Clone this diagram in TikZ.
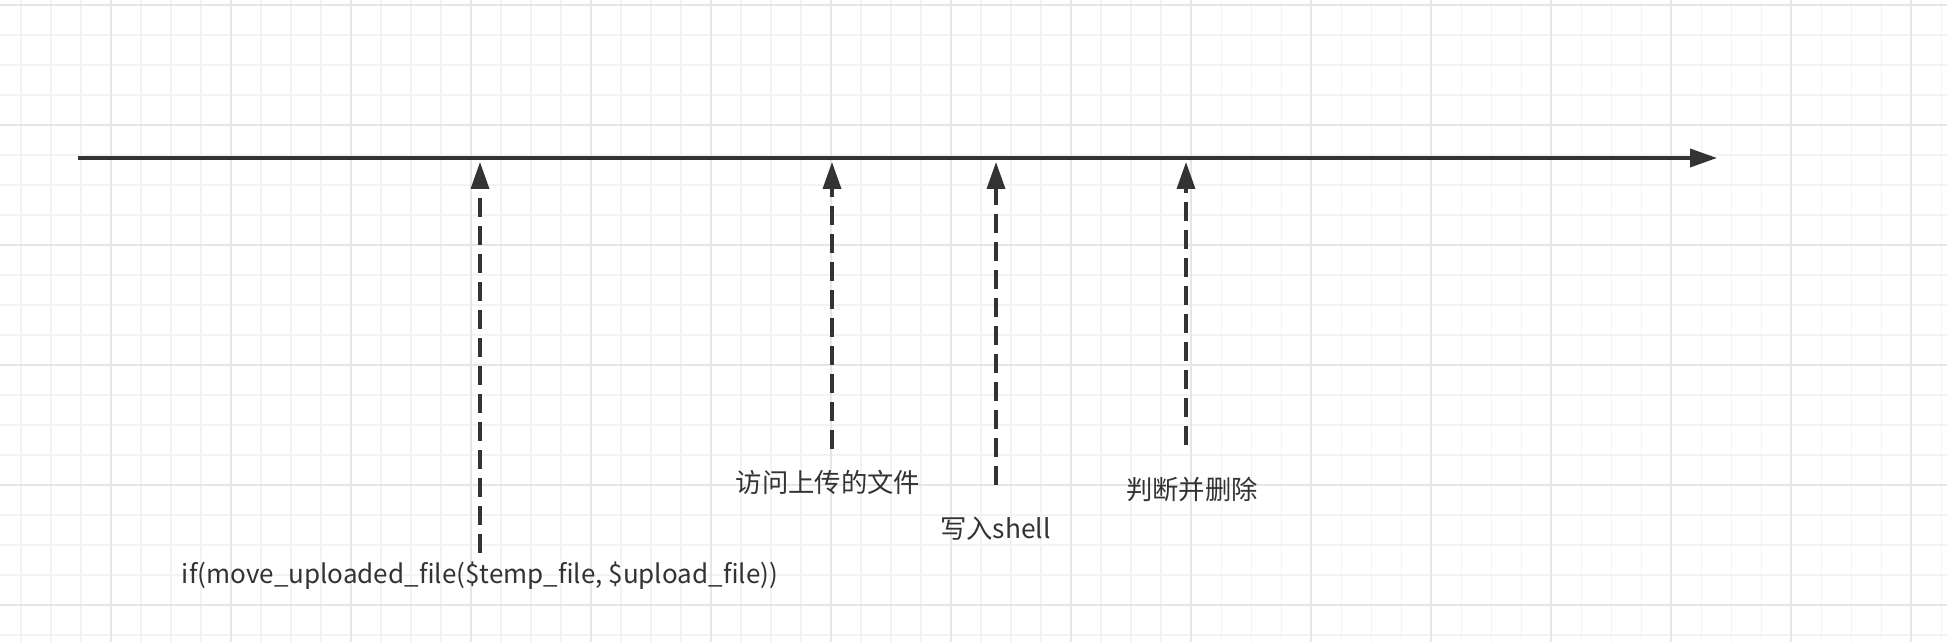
\documentclass[tikz,border=0pt]{standalone}
\usepackage{fontspec}
\setmainfont{Noto Sans CJK SC}
\usetikzlibrary{arrows.meta}
\definecolor{ink}{HTML}{333333}
\definecolor{gridfine}{HTML}{F3F3F3}
\definecolor{gridbold}{HTML}{E6E6E6}

\begin{document}
\begin{tikzpicture}[x=1cm,y=1cm,font=\fontsize{15pt}{18pt}\selectfont,>={Triangle[length=0.54cm,width=0.36cm]},
  timeline/.style={draw=ink,line width=2pt,->},
  event/.style={draw=ink,line width=2pt,->,dash pattern=on 0.38cm off 0.18cm},
  lbl/.style={text=ink,inner sep=0pt}]
\useasboundingbox (0,0) rectangle (38.94,12.84);
\fill[white] (0,0) rectangle (38.94,12.84);
% background grid
\foreach \i in {0,...,64} \draw[gridfine,line width=0.6pt] (0.42+0.6*\i,0) -- (0.42+0.6*\i,12.84);
\foreach \i in {0,...,21} \draw[gridfine,line width=0.6pt] (0,0.14+0.6*\i) -- (38.94,0.14+0.6*\i);
\foreach \i in {0,...,15} \draw[gridbold,line width=0.8pt] (2.22+2.4*\i,0) -- (2.22+2.4*\i,12.84);
\foreach \i in {0,...,5} \draw[gridbold,line width=0.8pt] (0,0.74+2.4*\i) -- (38.94,0.74+2.4*\i);
% the time line
\coordinate (start) at (1.56,9.68);
\coordinate (end) at (34.34,9.68);
\draw[timeline] (start) -- (end);
% events and their labels
\node[lbl,font=\fontsize{14.8pt}{18pt}\selectfont] (move) at (9.60,1.32) {if(move\_uploaded\_file(\$temp\_file, \$upload\_file))};
\node[lbl] (visit) at (16.56,3.19) {访问上传的文件};
\node[lbl] (write) at (19.91,2.27) {写入shell};
\node[lbl] (judge) at (23.84,3.05) {判断并删除};
\coordinate (move-s) at (9.60,1.78);   \coordinate (move-t) at (9.60,9.60);
\coordinate (visit-s) at (16.64,3.86); \coordinate (visit-t) at (16.64,9.60);
\coordinate (write-s) at (19.92,3.14); \coordinate (write-t) at (19.92,9.60);
\coordinate (judge-s) at (23.72,3.94); \coordinate (judge-t) at (23.72,9.60);
\draw[event] (move-s) -- (move-t);
\draw[event] (visit-s) -- (visit-t);
\draw[event] (write-s) -- (write-t);
\draw[event] (judge-s) -- (judge-t);
\end{tikzpicture}
\end{document}
